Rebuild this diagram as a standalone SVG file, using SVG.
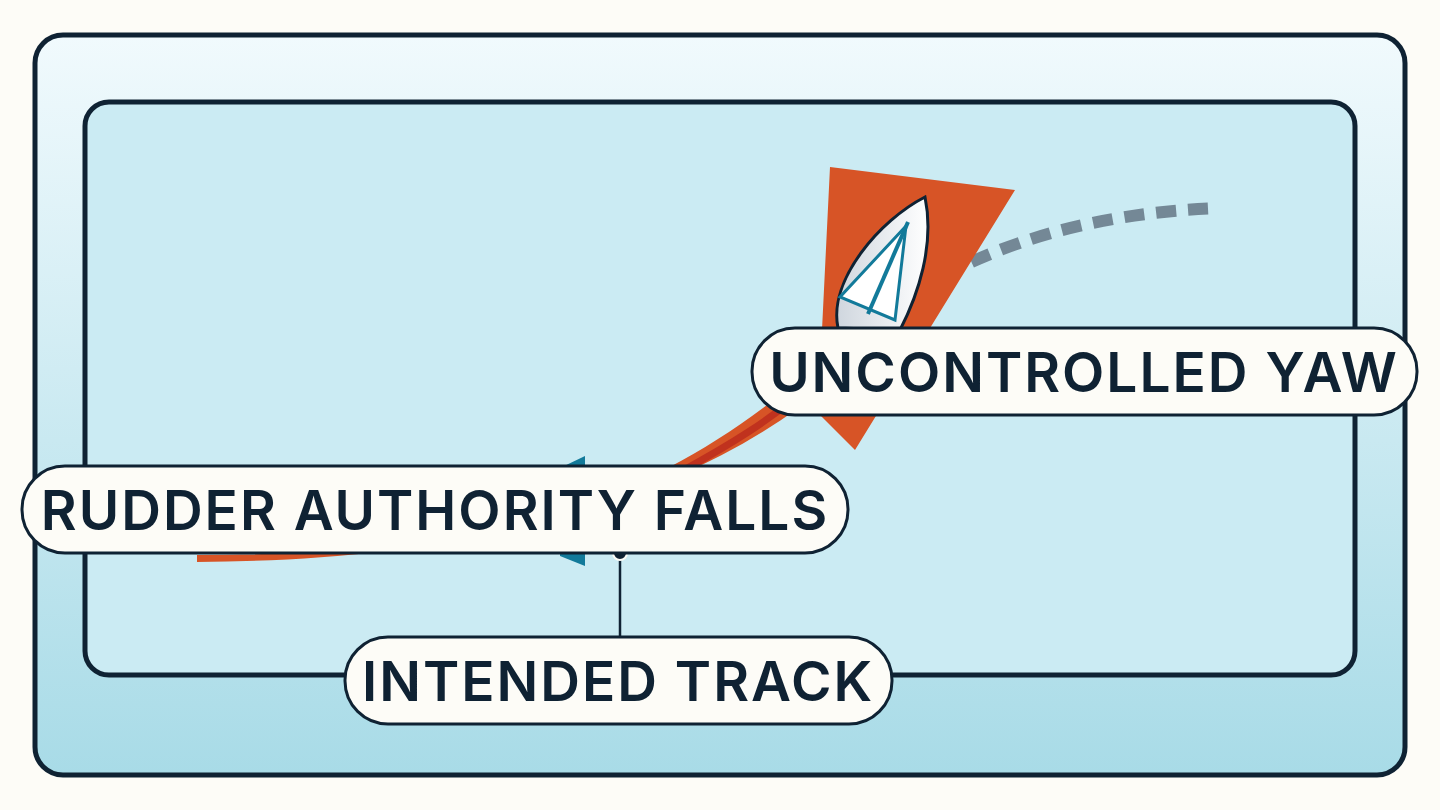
<svg xmlns="http://www.w3.org/2000/svg" width="1440" height="810" viewBox="0 0 1440 810">
<defs>
<linearGradient id="bg" x1="0" y1="0" x2="0" y2="1"><stop offset="0" stop-color="#f1fafd"/><stop offset="1" stop-color="#a8dbe7"/></linearGradient>
<linearGradient id="hull" x1="0" y1="0" x2="1" y2="0"><stop offset="0" stop-color="#cfd6de"/><stop offset="1" stop-color="#ffffff"/></linearGradient>
<style>
.pill{fill:#fdfcf7;stroke:#0f2233;stroke-width:3}
.lbl{font-family:Inter,"Liberation Sans",sans-serif;font-weight:600;font-size:55px;fill:#0f2233;text-anchor:middle;letter-spacing:2px}
</style>
</defs>
<rect width="1440" height="810" fill="#fdfcf7"/>
<rect x="35" y="35" width="1370" height="740" rx="28" fill="url(#bg)" stroke="#0f2233" stroke-width="5"/>
<rect x="85" y="102" width="1270" height="573" rx="24" fill="#cbebf3" stroke="#0f2233" stroke-width="5"/>
<g id="connectors">
<path d="M915,292 Q1040,215 1218,208" fill="none" stroke="#748896" stroke-width="12" stroke-dasharray="20 12"/>
<polygon points="830,167 1015,190 855,450 800,395 822,330" fill="#d75426"/>
<path d="M197,562 C420,560 610,530 780,395 L830,345 L835,380 C660,525 430,555 197,555 Z" fill="#d75426"/>
<path d="M680,472 C730,445 770,420 812,385" fill="none" stroke="#c0321e" stroke-width="7"/>
<polygon points="560,468 585,456 585,566 560,556" fill="#127a9a"/>
<line x1="620" y1="553" x2="620" y2="637" stroke="#0f2233" stroke-width="2.5"/>
<circle cx="620" cy="553" r="7" fill="#0f2233" stroke="#fdfcf7" stroke-width="2"/>
</g>
<g id="boat">
<path d="M925,197 C935,245 918,295 900,330 L838,328 C828,280 880,220 925,197 Z" fill="url(#hull)" stroke="#0f2233" stroke-width="3"/>
<polygon points="906,226 840,297 895,320" fill="#ffffff" stroke="#127a9a" stroke-width="3"/>
<line x1="908" y1="222" x2="868" y2="314" stroke="#127a9a" stroke-width="4"/>
</g>
<g id="uncontrolled"><rect class="pill" x="752" y="328" width="665" height="87" rx="43"/><text class="lbl" x="1084" y="392">UNCONTROLLED YAW</text></g>
<g id="rudder"><rect class="pill" x="22" y="466" width="826" height="87" rx="43"/><text class="lbl" x="435" y="530">RUDDER AUTHORITY FALLS</text></g>
<g id="intended"><rect class="pill" x="345" y="637" width="547" height="87" rx="43"/><text class="lbl" x="618" y="701">INTENDED TRACK</text></g>
</svg>
